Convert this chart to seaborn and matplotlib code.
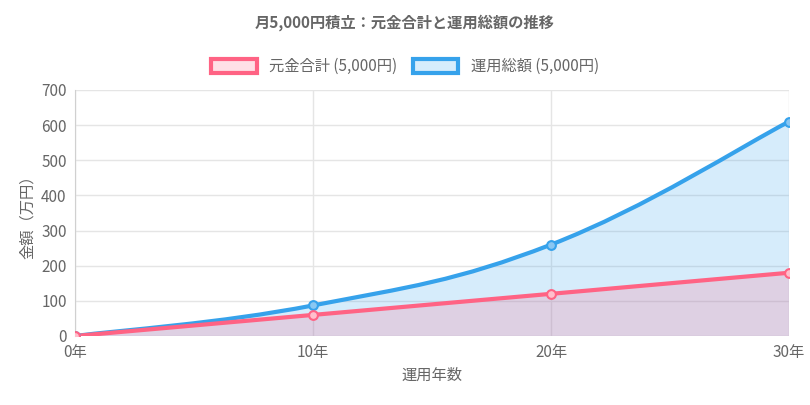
import numpy as np
import matplotlib.pyplot as plt
import seaborn as sns
from matplotlib.path import Path
from matplotlib.patches import PathPatch, Patch

years = [0, 10, 20, 30]
year_labels = ['0年', '10年', '20年', '30年']
principal = [0, 60, 120, 180]
total = [0, 87, 260, 610]

pink = '#ff6384'
blue = '#36a2eb'

def smooth_path(xs, ys, tension=0.4, close=False):
    # Chart.js-like cubic bezier through the points
    xs = np.asarray(xs, float); ys = np.asarray(ys, float)
    verts = [(xs[0], ys[0])]; codes = [Path.MOVETO]
    n = len(xs)
    for i in range(n - 1):
        p0 = i - 1 if i > 0 else i
        p3 = i + 2 if i + 2 < n else i + 1
        c1 = (xs[i] + (xs[i+1] - xs[p0]) * tension / 2, ys[i] + (ys[i+1] - ys[p0]) * tension / 2)
        c2 = (xs[i+1] - (xs[p3] - xs[i]) * tension / 2, ys[i+1] - (ys[p3] - ys[i]) * tension / 2)
        verts += [c1, c2, (xs[i+1], ys[i+1])]
        codes += [Path.CURVE4] * 3
    if close:
        verts += [(xs[-1], 0), (xs[0], 0), (xs[0], ys[0])]
        codes += [Path.LINETO, Path.LINETO, Path.CLOSEPOLY]
    return Path(verts, codes)

sns.set_style('white')
plt.rcParams['font.family'] = 'sans-serif'
plt.rcParams['font.sans-serif'] = ['Noto Sans CJK JP', 'DejaVu Sans']

fig = plt.figure(figsize=(8.1, 4.05), dpi=100)
ax = fig.add_axes([75/810, 69/405, 714/810, 246/405])

for ys, col in [(total, blue), (principal, pink)]:
    ax.add_patch(PathPatch(smooth_path(years, ys, close=True), facecolor=col, alpha=0.2, edgecolor='none'))
    ax.add_patch(PathPatch(smooth_path(years, ys), facecolor='none', edgecolor=col, lw=3, zorder=3))
sns.scatterplot(x=years, y=total, ax=ax, s=40, facecolor=(0.54, 0.78, 0.95), edgecolor=blue, linewidth=1.5, zorder=4)
sns.scatterplot(x=years, y=principal, ax=ax, s=40, facecolor=(1, 0.75, 0.8), edgecolor=pink, linewidth=1.5, zorder=4)

ax.set_xlim(0, 30)
ax.set_ylim(0, 700)
ax.set_xticks(years, year_labels)
ax.set_yticks(range(0, 701, 100))
ax.grid(True, color='#e5e5e5', lw=1)
for s in ax.spines.values():
    s.set_visible(False)
ax.spines['left'].set_visible(True)
ax.spines['left'].set_color('#d0d0d0')
ax.tick_params(colors='#666666', labelsize=11, length=0, pad=6)
ax.set_xlabel('運用年数', color='#666666', fontsize=11)
ax.set_ylabel('金額（万円）', color='#666666', fontsize=11)

fig.suptitle('月5,000円積立：元金合計と運用総額の推移', y=0.965, fontsize=11, fontweight='bold', color='#666666')
handles = [Patch(facecolor=(1, 0.88, 0.9), edgecolor=pink, lw=3),
           Patch(facecolor=(0.84, 0.93, 0.99), edgecolor=blue, lw=3)]
fig.legend(handles, ['元金合計 (5,000円)', '運用総額 (5,000円)'], loc='center', bbox_to_anchor=(0.5, 0.835),
           ncol=2, frameon=False, fontsize=11, labelcolor='#666666', handlelength=3, handleheight=1, columnspacing=1)

fig.savefig('out.png', dpi=100)
